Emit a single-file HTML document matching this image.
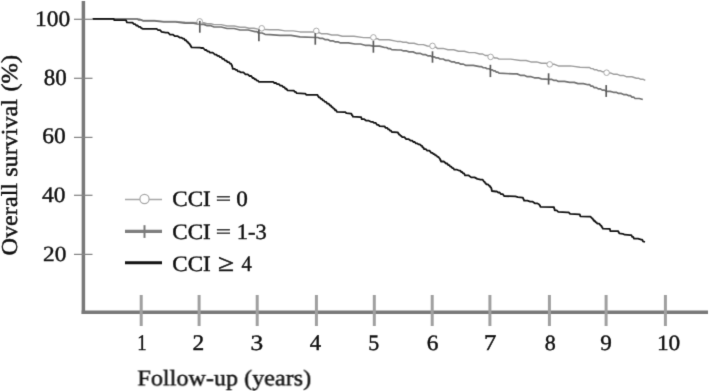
<!DOCTYPE html>
<html><head><meta charset="utf-8"><style>
html,body{margin:0;padding:0;background:#fff;width:709px;height:391px;overflow:hidden}
svg{position:absolute;left:0;top:0;display:block;will-change:transform;}
text{font-family:"Liberation Serif",serif;text-rendering:geometricPrecision;fill:#111;stroke:#111;stroke-width:0.45px}
</style></head><body>
<svg width="709" height="391" viewBox="0 0 709 391">
<defs><filter id="soft" filterUnits="userSpaceOnUse" x="0" y="0" width="709" height="391" color-interpolation-filters="sRGB"><feConvolveMatrix order="3" kernelMatrix="0.01134 0.08382 0.01134 0.08382 0.61935 0.08382 0.01134 0.08382 0.01134" divisor="1" edgeMode="duplicate" preserveAlpha="false"/></filter></defs>
<g filter="url(#soft)">
<rect x="0" y="0" width="709" height="391" fill="#fff"/>
<line x1="83.4" y1="1" x2="83.4" y2="314" stroke="#797979" stroke-width="3.5"/>
<line x1="81.65" y1="312.3" x2="708" y2="312.3" stroke="#797979" stroke-width="3.5"/>
<line x1="74" y1="19.3" x2="92.5" y2="19.3" stroke="#858585" stroke-width="1.25"/>
<line x1="74" y1="78.3" x2="92.5" y2="78.3" stroke="#858585" stroke-width="1.25"/>
<line x1="74" y1="137.4" x2="92.5" y2="137.4" stroke="#858585" stroke-width="1.25"/>
<line x1="74" y1="195.3" x2="92.5" y2="195.3" stroke="#858585" stroke-width="1.25"/>
<line x1="74" y1="254.4" x2="92.5" y2="254.4" stroke="#858585" stroke-width="1.25"/>
<line x1="141.2" y1="295" x2="141.2" y2="326" stroke="#a0a0a0" stroke-width="3"/>
<line x1="199.1" y1="295" x2="199.1" y2="326" stroke="#a0a0a0" stroke-width="3"/>
<line x1="257.2" y1="295" x2="257.2" y2="326" stroke="#a0a0a0" stroke-width="3"/>
<line x1="316.4" y1="295" x2="316.4" y2="326" stroke="#a0a0a0" stroke-width="3"/>
<line x1="374.3" y1="295" x2="374.3" y2="326" stroke="#a0a0a0" stroke-width="3"/>
<line x1="432.2" y1="295" x2="432.2" y2="326" stroke="#a0a0a0" stroke-width="3"/>
<line x1="489.9" y1="295" x2="489.9" y2="326" stroke="#a0a0a0" stroke-width="3"/>
<line x1="549.4" y1="295" x2="549.4" y2="326" stroke="#a0a0a0" stroke-width="3"/>
<line x1="606.1" y1="295" x2="606.1" y2="326" stroke="#a0a0a0" stroke-width="3"/>
<line x1="665.4" y1="295" x2="665.4" y2="326" stroke="#a0a0a0" stroke-width="3"/>
<polyline points="92.70,19.00 135.00,19.00 139.29,19.00 142.80,20.40 154.41,20.40 163.90,21.35 175.50,21.35 185.00,22.30 200.00,22.80 203.88,22.80 207.05,23.70 210.93,23.70 214.10,24.60 221.22,24.60 227.05,25.95 234.17,25.95 240.00,27.30 244.95,27.30 249.00,28.20 253.95,28.20 258.00,29.10 270.00,29.80 278.25,29.80 285.00,30.85 293.25,30.85 300.00,31.90 314.00,31.90 315.98,31.90 317.60,32.80 319.58,32.80 321.20,33.70 327.00,33.70 331.75,34.95 337.55,34.95 342.30,36.20 353.96,36.20 363.50,37.60 373.50,37.80 375.01,37.80 376.25,38.75 377.76,38.75 379.00,39.70 388.90,39.70 397.00,41.40 400.33,41.40 403.05,42.30 406.38,42.30 409.10,43.20 414.13,43.20 418.25,44.60 423.28,44.60 427.40,46.00 432.80,46.20 434.04,46.20 435.05,47.30 436.29,47.30 437.30,48.40 443.13,48.40 447.90,49.80 453.73,49.80 458.50,51.20 464.30,51.20 469.05,52.60 474.85,52.60 479.60,54.00 482.68,54.00 485.20,55.50 488.28,55.50 490.80,57.00 493.08,57.00 494.95,58.05 497.23,58.05 499.10,59.10 510.76,59.10 520.30,60.50 526.10,60.50 530.85,61.90 536.65,61.90 541.40,63.30 546.07,63.30 549.90,64.30 554.52,64.30 558.30,65.90 570.24,65.90 580.00,67.30 587.80,67.50 589.56,67.50 591.00,68.60 592.76,68.60 594.20,69.70 596.49,69.70 598.37,70.77 600.66,70.77 602.53,71.83 604.83,71.83 606.70,72.90 610.38,72.90 613.40,74.20 616.92,74.20 619.80,75.45 623.32,75.45 626.20,76.70 631.81,76.70 636.40,78.30 638.85,78.30 640.85,79.30 643.30,79.30 645.30,80.30" fill="none" stroke="#9e9e9e" stroke-width="1.45" stroke-linejoin="round"/>
<polyline points="92.70,19.00 135.00,19.00 137.15,19.00 138.90,19.90 141.05,19.90 142.80,20.80 154.41,20.80 163.90,22.00 175.50,22.00 185.00,23.20 193.25,23.20 200.00,24.40 203.88,24.40 207.05,25.70 210.93,25.70 214.10,27.00 221.22,27.00 227.05,28.50 234.17,28.50 240.00,30.00 248.25,30.00 255.00,31.60 256.93,31.60 258.50,33.00 262.07,33.00 265.00,34.30 270.00,34.70 280.00,35.30 291.00,35.30 300.00,36.80 315.50,37.50 317.81,37.50 319.70,38.30 322.53,38.30 324.85,39.55 327.68,39.55 330.00,40.80 332.75,40.80 335.00,41.80 337.75,41.80 340.00,42.80 348.25,42.80 355.00,44.00 360.50,44.00 365.00,45.30 369.56,45.30 373.30,46.10 379.52,46.10 384.60,47.50 386.55,47.50 388.15,48.55 390.10,48.55 391.70,49.60 398.00,50.00 401.05,50.00 403.55,50.95 406.60,50.95 409.10,51.90 412.98,51.90 416.15,53.30 420.03,53.30 423.20,54.70 425.73,54.70 427.80,55.80 430.33,55.80 432.40,56.90 434.52,56.90 436.25,57.95 438.37,57.95 440.10,59.00 443.21,59.00 445.75,60.40 448.86,60.40 451.40,61.80 453.98,61.80 456.10,62.97 458.68,62.97 460.80,64.13 463.38,64.13 465.50,65.30 473.25,65.30 479.60,66.70 481.65,66.70 483.33,67.73 485.39,67.73 487.07,68.77 489.12,68.77 490.80,69.80 492.32,69.80 493.57,70.93 495.09,70.93 496.33,72.07 497.86,72.07 499.10,73.20 513.20,73.90 517.08,73.90 520.25,75.30 524.13,75.30 527.30,76.70 531.18,76.70 534.35,77.80 538.23,77.80 541.40,78.90 548.80,79.30 551.41,79.30 553.55,80.35 556.16,80.35 558.30,81.40 564.51,81.40 569.60,82.40 574.22,82.40 578.00,83.60 583.39,83.60 587.80,84.70 589.56,84.70 591.00,86.15 592.76,86.15 594.20,87.60 596.42,87.60 598.23,88.87 600.45,88.87 602.27,90.13 604.49,90.13 606.30,91.40 610.20,91.40 613.40,92.30 616.21,92.30 618.50,93.43 621.31,93.43 623.60,94.57 626.41,94.57 628.70,95.70 630.46,95.70 631.90,97.10 633.66,97.10 635.10,98.50 639.34,98.50 642.80,99.50" fill="none" stroke="#727272" stroke-width="1.7" stroke-linejoin="round"/>
<polyline points="92.70,18.80 113.00,18.80 113.72,18.80 114.30,20.20 124.80,20.20 125.95,20.20 126.90,22.30 131.20,22.60 132.57,22.60 133.70,24.05 135.07,24.05 136.20,25.50 137.60,25.50 138.75,26.80 140.15,26.80 141.30,28.10 143.00,28.80 154.80,28.80 156.67,28.80 158.20,30.20 160.07,30.20 161.60,31.90 165.80,32.70 168.11,32.70 170.00,34.60 172.75,34.60 175.00,36.15 177.75,36.15 180.00,37.70 181.65,37.70 183.00,38.70 184.10,38.70 185.00,40.25 186.10,40.25 187.00,41.80 187.82,41.80 188.50,43.35 189.32,43.35 190.00,44.90 190.41,44.90 190.75,46.15 191.16,46.15 191.50,47.40 200.00,47.70 201.00,48.00 203.20,48.00 205.00,50.00 206.38,50.00 207.50,51.30 208.88,51.30 210.00,52.60 212.75,52.60 215.00,54.60 216.38,54.60 217.50,55.90 218.88,55.90 220.00,57.20 221.38,57.20 222.50,58.90 223.88,58.90 225.00,60.60 226.40,60.60 227.55,62.15 228.95,62.15 230.10,63.70 230.98,63.70 231.70,65.20 231.97,65.20 232.20,67.00 232.47,67.00 232.70,68.80 234.35,68.80 235.70,69.80 236.85,69.80 237.80,71.40 239.50,71.40 240.90,72.40 243.43,72.40 245.50,74.40 247.75,74.40 249.60,76.00 251.25,76.00 252.60,78.00 253.74,78.00 254.67,79.27 255.80,79.27 256.73,80.53 257.87,80.53 258.80,81.80 271.60,81.80 273.14,81.80 274.40,83.00 275.94,83.00 277.20,84.20 278.88,84.20 280.25,85.70 281.93,85.70 283.30,87.20 284.43,87.20 285.35,88.75 286.48,88.75 287.40,90.30 293.00,90.70 294.02,90.70 294.85,91.95 295.87,91.95 296.70,93.20 304.30,93.70 305.45,93.70 306.40,94.90 317.10,94.90 317.54,94.90 317.90,96.10 318.34,96.10 318.70,97.30 319.82,97.30 320.73,98.83 321.85,98.83 322.77,100.37 323.88,100.37 324.80,101.90 326.20,101.90 327.35,103.70 328.75,103.70 329.90,105.50 330.86,105.50 331.65,107.08 332.61,107.08 333.40,108.65 334.36,108.65 335.15,110.23 336.11,110.22 336.90,111.80 344.20,112.10 345.36,112.10 346.30,113.10 350.90,113.70 351.45,113.70 351.90,115.20 352.45,115.20 352.90,116.70 360.60,117.10 361.20,117.10 361.70,119.20 364.23,119.20 366.30,120.70 368.83,120.70 370.90,121.80 372.55,121.80 373.90,122.80 375.61,122.80 377.00,124.80 378.43,124.80 379.60,126.20 383.10,126.40 384.53,126.40 385.70,127.90 387.13,127.90 388.30,129.40 389.26,129.40 390.05,130.70 391.01,130.70 391.80,132.00 397.50,132.30 397.91,132.30 398.25,133.45 398.66,133.45 399.00,134.60 399.85,134.60 400.55,135.85 401.40,135.85 402.10,137.10 404.36,137.10 406.20,139.20 408.73,139.20 410.80,140.70 412.20,140.70 413.35,142.00 414.75,142.00 415.90,143.30 417.30,143.30 418.45,144.45 419.85,144.45 421.00,145.60 421.85,145.60 422.55,147.40 423.40,147.40 424.10,149.20 425.81,149.20 427.20,150.70 429.45,150.70 431.30,152.80 432.43,152.80 433.35,154.10 434.48,154.10 435.40,155.40 436.50,155.40 437.40,156.90 438.50,156.90 439.40,158.40 439.84,158.40 440.20,159.95 440.64,159.95 441.00,161.50 443.81,161.50 446.10,163.50 447.23,163.50 448.15,165.05 449.28,165.05 450.20,166.60 451.33,166.60 452.25,168.15 453.38,168.15 454.30,169.70 457.11,169.70 459.40,170.70 460.39,170.70 461.20,172.00 462.19,172.00 463.00,173.30 464.10,173.30 465.00,175.30 468.41,175.30 471.20,177.40 474.56,177.40 477.30,178.90 480.60,179.60 482.53,179.60 484.10,181.80 484.68,181.80 485.15,183.05 485.73,183.05 486.20,184.30 487.91,184.30 489.30,185.90 489.85,185.90 490.30,187.15 490.85,187.15 491.30,188.40 491.44,188.40 491.55,189.70 491.69,189.70 491.80,191.00 495.90,191.50 497.06,191.50 498.00,192.50 499.65,192.50 501.00,194.10 502.71,194.10 504.10,196.10 515.40,196.40 517.90,197.10 522.50,197.60 522.94,197.60 523.30,199.15 523.74,199.15 524.10,200.70 527.46,200.70 530.20,201.70 532.73,201.70 534.80,203.30 537.05,203.30 538.90,204.30 539.31,204.30 539.65,205.55 540.06,205.55 540.40,206.80 553.70,207.20 553.98,207.20 554.20,208.75 554.48,208.75 554.70,210.30 556.68,210.30 558.30,211.80 567.00,212.30 568.71,212.30 570.10,213.90 579.30,214.40 579.85,214.40 580.30,216.40 588.50,216.70 590.48,216.70 592.10,218.50 592.65,218.50 593.10,219.75 593.65,219.75 594.10,221.00 594.95,221.00 595.65,222.30 596.50,222.30 597.20,223.60 599.18,223.60 600.80,225.60 601.32,225.60 601.75,227.10 602.27,227.10 602.70,228.60 609.40,228.90 609.89,228.90 610.30,231.10 617.90,231.10 618.26,231.10 618.55,232.25 618.91,232.25 619.20,233.40 622.80,233.80 624.60,234.70 630.40,235.10 631.39,235.10 632.20,236.90 633.19,236.90 634.00,238.70 637.96,238.70 641.20,239.60 642.19,239.60 643.00,241.40 645.00,242.00" fill="none" stroke="#141414" stroke-width="1.8" stroke-linejoin="round"/>
<circle cx="199.7" cy="21.4" r="2.8" fill="#fff" stroke="#aaa" stroke-width="1.0"/>
<circle cx="261.7" cy="28.3" r="2.8" fill="#fff" stroke="#aaa" stroke-width="1.0"/>
<circle cx="316.3" cy="30.9" r="2.8" fill="#fff" stroke="#aaa" stroke-width="1.0"/>
<circle cx="373.4" cy="37.4" r="2.8" fill="#fff" stroke="#aaa" stroke-width="1.0"/>
<circle cx="432.5" cy="45.9" r="2.8" fill="#fff" stroke="#aaa" stroke-width="1.0"/>
<circle cx="490.6" cy="56.9" r="2.8" fill="#fff" stroke="#aaa" stroke-width="1.0"/>
<circle cx="549.7" cy="64.4" r="2.8" fill="#fff" stroke="#aaa" stroke-width="1.0"/>
<circle cx="606.6" cy="72.7" r="2.8" fill="#fff" stroke="#aaa" stroke-width="1.0"/>
<line x1="199.8" y1="20.9" x2="199.8" y2="32.7" stroke="#5c5c5c" stroke-width="1.7"/>
<line x1="258.9" y1="29.6" x2="258.9" y2="41.2" stroke="#5c5c5c" stroke-width="1.7"/>
<line x1="315.3" y1="33.2" x2="315.3" y2="44.7" stroke="#5c5c5c" stroke-width="1.7"/>
<line x1="373.4" y1="40.8" x2="373.4" y2="52.7" stroke="#5c5c5c" stroke-width="1.7"/>
<line x1="432.5" y1="51.3" x2="432.5" y2="62.7" stroke="#5c5c5c" stroke-width="1.7"/>
<line x1="490.4" y1="64.8" x2="490.4" y2="77.1" stroke="#5c5c5c" stroke-width="1.7"/>
<line x1="548.6" y1="73.3" x2="548.6" y2="84.6" stroke="#5c5c5c" stroke-width="1.7"/>
<line x1="606.2" y1="85.1" x2="606.2" y2="96.9" stroke="#5c5c5c" stroke-width="1.7"/>
<line x1="125" y1="199.4" x2="162" y2="199.4" stroke="#a8a8a8" stroke-width="1.5"/>
<circle cx="144.5" cy="199" r="4.6" fill="#fff" stroke="#a8a8a8" stroke-width="1.2"/>
<line x1="125" y1="231.3" x2="162" y2="231.3" stroke="#7e7e7e" stroke-width="3.2"/>
<line x1="144.5" y1="225.2" x2="144.5" y2="237.9" stroke="#7a7a7a" stroke-width="2"/>
<line x1="125" y1="262.7" x2="162" y2="262.7" stroke="#141414" stroke-width="3"/>
<text transform="translate(35.08,26.42) scale(0.9758,0.9231)" font-size="24" >100</text>
<text transform="translate(43.81,84.71) scale(0.9573,0.9600)" font-size="24" >80</text>
<text transform="translate(42.37,143.42) scale(0.9763,0.9231)" font-size="24" >60</text>
<text transform="translate(42.06,202.22) scale(0.9768,0.9169)" font-size="24" >40</text>
<text transform="translate(43.08,261.43) scale(0.9718,0.8985)" font-size="24" >20</text>
<text transform="translate(137.20,349.85) scale(0.7765,0.9260)" font-size="24" >1</text>
<text transform="translate(192.58,349.85) scale(0.9744,0.9260)" font-size="24" >2</text>
<text transform="translate(250.56,349.62) scale(1.0600,0.9116)" font-size="24" >3</text>
<text transform="translate(309.68,349.85) scale(0.9438,0.9333)" font-size="24" >4</text>
<text transform="translate(368.29,349.62) scale(0.9128,0.9187)" font-size="24" >5</text>
<text transform="translate(426.67,349.62) scale(0.9756,0.9116)" font-size="24" >6</text>
<text transform="translate(484.08,349.85) scale(1.0256,0.9333)" font-size="24" >7</text>
<text transform="translate(544.65,349.62) scale(0.9171,0.9046)" font-size="24" >8</text>
<text transform="translate(600.33,349.62) scale(0.9659,0.9116)" font-size="24" >9</text>
<text transform="translate(656.89,349.62) scale(0.9714,0.9046)" font-size="24" >10</text>
<text transform="translate(137.42,385.35) scale(1.0064,0.9326)" font-size="24" >Follow-up (years)</text>
<text transform="translate(172.29,206.12) scale(0.9595,0.9178)" font-size="24" >CCI</text>
<text transform="translate(172.29,238.52) scale(0.9595,0.9178)" font-size="24" >CCI</text>
<text transform="translate(172.29,270.82) scale(0.9595,0.9178)" font-size="24" >CCI</text>
<text transform="translate(215.68,204.15) scale(1.1289,0.7000)" font-size="24" >=</text>
<text transform="translate(215.68,236.55) scale(1.1289,0.7000)" font-size="24" >=</text>
<text transform="translate(236.20,206.12) scale(0.9659,0.9108)" font-size="24" >0</text>
<text transform="translate(236.86,238.62) scale(0.9379,0.9116)" font-size="24" >1-3</text>
<text transform="translate(217.93,270.85) scale(1.2178,1.0036)" font-size="24" >&#8805;</text>
<text transform="translate(241.62,271.15) scale(0.8539,0.9206)" font-size="24" >4</text>
<text transform="translate(17.37,255.46) rotate(-90) scale(1.0080,0.9517)" font-size="24">Overall survival</text>
<text transform="translate(17.37,91.57) rotate(-90) scale(1.0235,0.9517)" font-size="24">(%)</text>
</g>
</svg>
</body></html>
